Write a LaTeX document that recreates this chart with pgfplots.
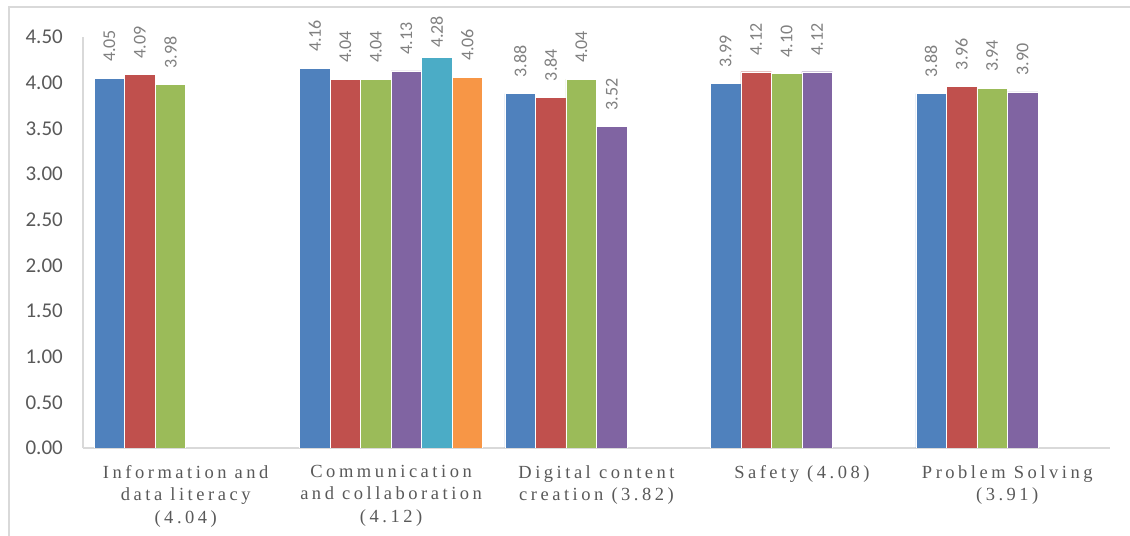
\documentclass[border=0pt]{standalone}
\usepackage{fontspec}
\setmainfont{Carlito}
\newfontfamily\catfont[LetterSpace=19]{Liberation Serif}
\usepackage{pgfplots}
\pgfplotsset{compat=1.18}
\definecolor{cA}{HTML}{4F81BD}
\definecolor{cB}{HTML}{C0504D}
\definecolor{cC}{HTML}{9BBB59}
\definecolor{cD}{HTML}{8064A2}
\definecolor{cE}{HTML}{4BACC6}
\definecolor{cF}{HTML}{F79646}
\definecolor{frame}{HTML}{D9D9D9}
\definecolor{ticktext}{HTML}{595959}
\definecolor{labtext}{HTML}{808080}
\begin{document}
\begin{tikzpicture}
\path[use as bounding box] (0bp,0bp) rectangle (1130bp,536bp);
\draw[frame, line width=1.5bp] (9bp,-20bp) -- (9bp,529bp) -- (1150bp,529bp);
\begin{axis}[
  at={(83bp,88bp)}, anchor=south west,
  scale only axis, width=1027bp, height=411bp,
  xmin=-0.5, xmax=4.5, ymin=0, ymax=4.5,
  axis x line*=bottom, axis y line*=left,
  axis line style={-, draw=frame, line width=1.5bp},
  major tick length=0pt,
  ytick={0,0.5,1,1.5,2,2.5,3,3.5,4,4.5},
  yticklabel style={font=\fontsize{21bp}{25bp}\selectfont, text=ticktext, anchor=east, inner sep=0pt, xshift=-20bp,
    /pgf/number format/.cd, fixed, fixed zerofill, precision=2, assume math mode=true},
  xtick={0,1,2,3,4},
  xticklabels={{Information and\\data literacy\\(4.04)},{Communication\\and collaboration\\(4.12)},{Digital content\\creation (3.82)},{Safety (4.08)},{Problem Solving\\(3.91)}},
  xticklabel style={font=\catfont\fontsize{18.5bp}{22.5bp}\selectfont, text=ticktext, align=center, anchor=north, inner sep=0pt, yshift=-17bp},
  ybar, bar width=0.1485,
  every axis plot/.append style={draw=white, line width=0.4bp},
  nodes near coords,
  nodes near coords style={/pgf/number format/.cd, fixed, fixed zerofill, precision=2, assume math mode=true,
    /tikz/.cd, font=\fontsize{18bp}{21bp}\selectfont, text=labtext, rotate=90, anchor=west, inner xsep=16bp, inner ysep=0pt},
]
\addplot[fill=cA, bar shift=-0.37125] coordinates {(0,4.05) (1,4.16) (2,3.88) (3,3.99) (4,3.88)};
\addplot[fill=cB, bar shift=-0.22275] coordinates {(0,4.09) (1,4.04) (2,3.84) (3,4.12) (4,3.96)};
\addplot[fill=cC, bar shift=-0.07425] coordinates {(0,3.98) (1,4.04) (2,4.04) (3,4.10) (4,3.94)};
\addplot[fill=cD, bar shift=0.07425] coordinates {(1,4.13) (2,3.52) (3,4.12) (4,3.90)};
\addplot[fill=cE, bar shift=0.22275, nodes near coords style={/tikz/inner xsep=9bp}] coordinates {(1,4.28)};
\addplot[fill=cF, bar shift=0.37125] coordinates {(1,4.06)};
\end{axis}
\end{tikzpicture}
\end{document}
